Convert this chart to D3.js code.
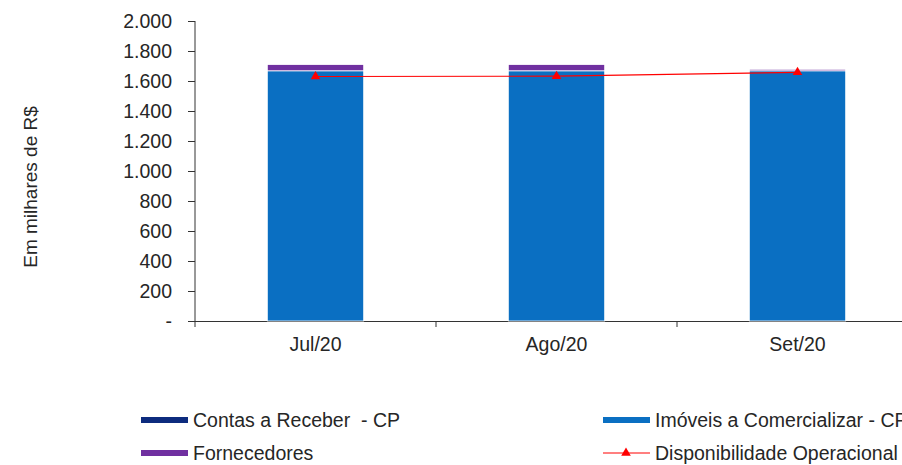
<!DOCTYPE html>
<html>
<head>
<meta charset="utf-8">
<script src="https://cdn.jsdelivr.net/npm/d3@7"></script>
<style>
  body { margin: 0; background: #fff; }
  svg text { font-family: "Liberation Sans", Arial, sans-serif; fill: #262626; white-space: pre; }
</style>
</head>
<body>
<svg width="902" height="465"></svg>
<script>
// chart data (milhares de R$)
var months = ["Jul/20", "Ago/20", "Set/20"];
var contasReceber = [0, 0, 0];
var imoveis = [1668, 1668, 1668];
var fornecedores = [42, 42, 10];
var disponibilidade = [1630, 1632, 1658];
var yTicks = [0, 200, 400, 600, 800, 1000, 1200, 1400, 1600, 1800, 2000];

var svg = d3.select("svg");
var margin = { left: 195, top: 21, right: -16, bottom: 144 };
var width = 902 - margin.left - margin.right,
  height = 465 - margin.top - margin.bottom;
var fs = "19.5px";

var g = svg.append("g")
  .attr("transform", "translate(" + margin.left + "," + margin.top + ")");

var xScale = d3.scaleBand().domain(months).range([0, width]).padding(0);
var yScale = d3.scaleLinear().domain([0, 2000]).range([height, 0]);
var barW = xScale.bandwidth() * 0.4;

// y axis
var yAxis = g.append("g")
  .call(d3.axisLeft(yScale)
    .tickValues(yTicks)
    .tickSize(7)
    .tickPadding(16)
    .tickFormat(function(d) {
      return d === 0 ? "-" : d3.format(",")(d).replace(",", ".");
    }));
yAxis.select(".domain").attr("d", "M0,0V" + (height + 6)).attr("stroke", "#333");
yAxis.selectAll(".tick line").attr("stroke", "#333");
yAxis.selectAll("text").attr("font-size", fs).attr("fill", "#262626");
yAxis.selectAll(".tick").filter(function(d) { return d === 0; })
  .select("line").attr("x2", 14).attr("x1", -7);

// x axis
var xAxis = g.append("g")
  .attr("transform", "translate(0," + height + ")")
  .call(d3.axisBottom(xScale).tickSize(0).tickPadding(16));
xAxis.select(".domain").attr("stroke", "#333");
xAxis.selectAll("text").attr("font-size", fs).attr("fill", "#262626");
// category boundary ticks
g.selectAll(".sep")
  .data(months.slice(1))
  .enter()
  .append("line")
  .attr("class", "sep")
  .attr("x1", function(d) { return xScale(d); })
  .attr("x2", function(d) { return xScale(d); })
  .attr("y1", height)
  .attr("y2", height + 6)
  .attr("stroke", "#333");

// stacked bars
var rows = months.map(function(m, i) {
  return { month: m, contas: contasReceber[i], imoveis: imoveis[i], fornecedores: fornecedores[i] };
});
var keys = ["contas", "imoveis", "fornecedores"];
var colors = { contas: "#0D2B7E", imoveis: "#0A6FC2", fornecedores: "#7030A0" };
var stack = d3.stack().keys(keys)(rows);

g.selectAll(".layer")
  .data(stack)
  .enter()
  .append("g")
  .attr("class", "layer")
  .attr("fill", function(d) { return colors[d.key]; })
  .selectAll("rect")
  .data(function(d) { return d; })
  .enter()
  .append("rect")
  .attr("x", function(d) { return xScale(d.data.month) + (xScale.bandwidth() - barW) / 2; })
  .attr("width", barW)
  .attr("y", function(d) { return yScale(d[1]); })
  .attr("height", function(d) { return Math.max(0, yScale(d[0]) - yScale(d[1])); })
  .attr("stroke", "#fff")
  .attr("stroke-width", function(d) { return d[1] - d[0] > 0 ? 0.8 : 0; });

// line
var line = d3.line()
  .x(function(d, i) { return xScale(months[i]) + xScale.bandwidth() / 2; })
  .y(function(d) { return yScale(d); });
g.append("path")
  .datum(disponibilidade)
  .attr("d", line)
  .attr("fill", "none")
  .attr("stroke", "#FF0000")
  .attr("stroke-width", 1.2);
g.selectAll(".mark")
  .data(disponibilidade)
  .enter()
  .append("path")
  .attr("class", "mark")
  .attr("d", d3.symbol().type(d3.symbolTriangle).size(40))
  .attr("transform", function(d, i) {
    return "translate(" + (xScale(months[i]) + xScale.bandwidth() / 2) + "," + yScale(d) + ")";
  })
  .attr("fill", "#FF0000");

// y title
svg.append("text")
  .attr("transform", "translate(37,187) rotate(-90)")
  .attr("text-anchor", "middle")
  .attr("font-size", "19px")
  .text("Em milhares de R$");

// legend
var legend = [
  { name: "Contas a Receber  - CP", color: colors.contas, type: "bar", x: 141, y: 420 },
  { name: "Imóveis a Comercializar - CP", color: colors.imoveis, type: "bar", x: 603, y: 420 },
  { name: "Fornecedores", color: colors.fornecedores, type: "bar", x: 141, y: 453 },
  { name: "Disponibilidade Operacional", color: "#FF0000", type: "line", x: 603, y: 453 }
];
var lg = svg.selectAll(".leg")
  .data(legend)
  .enter()
  .append("g")
  .attr("class", "leg")
  .attr("transform", function(d) { return "translate(" + d.x + "," + d.y + ")"; });
lg.filter(function(d) { return d.type === "bar"; })
  .append("rect")
  .attr("x", 0).attr("y", -3).attr("width", 47).attr("height", 6)
  .attr("fill", function(d) { return d.color; });
lg.filter(function(d) { return d.type === "line"; })
  .append("line")
  .attr("x1", 0).attr("x2", 47).attr("y1", 0).attr("y2", 0)
  .attr("stroke", "#FF0000").attr("stroke-width", 1.2);
lg.filter(function(d) { return d.type === "line"; })
  .append("path")
  .attr("d", d3.symbol().type(d3.symbolTriangle).size(40))
  .attr("transform", "translate(23,0)")
  .attr("fill", "#FF0000");
lg.append("text")
  .attr("x", 52)
  .attr("dy", "0.35em")
  .attr("font-size", fs)
  .text(function(d) { return d.name; });
</script>
</body>
</html>
